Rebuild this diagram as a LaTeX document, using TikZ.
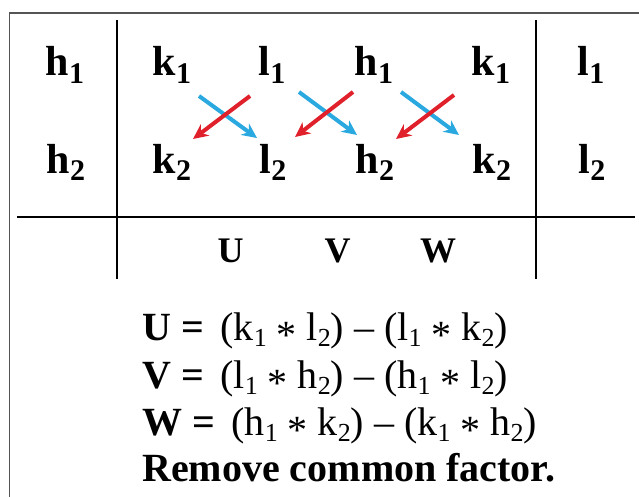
\documentclass[tikz,border=0pt]{standalone}
\usepackage{fontspec}
\setmainfont{Liberation Serif}
\usetikzlibrary{arrows.meta}
\definecolor{arrred}{HTML}{E0202A}
\definecolor{arrblue}{HTML}{2AA8E0}
\definecolor{framegray}{HTML}{555555}
\newcommand{\tsb}[2]{#1\raisebox{-0.17em}{\fontsize{30}{30}\selectfont #2}}
\newcommand{\esb}[1]{\raisebox{-0.16em}{\fontsize{26}{26}\selectfont #1}}
\newcommand{\myast}{\raisebox{-0.2em}{*}}
\begin{document}
\begin{tikzpicture}[x=1pt,y=-1pt,
  cell/.style={anchor=base,inner sep=0pt,font=\fontsize{42}{48}\selectfont\bfseries},
  lab/.style={anchor=base,inner sep=0pt,font=\fontsize{36}{40}\selectfont\bfseries},
  eq/.style={anchor=base west,inner sep=0pt,font=\fontsize{40}{46}\selectfont},
  rule/.style={line width=2pt},
  redarr/.style={arrred,line width=4pt,-{Stealth[length=15pt,width=14pt]}},
  bluearr/.style={arrblue,line width=4pt,-{Stealth[length=15pt,width=14pt]}}]
\useasboundingbox (0,0) rectangle (639,497);
\fill[white] (0,0) rectangle (639,497);
\draw[framegray,line width=1.5pt] (9.5,497) -- (9.5,13) -- (639,13);
% grid lines
\coordinate (v1t) at (117,20); \coordinate (v1b) at (117,279);
\coordinate (v2t) at (536,20); \coordinate (v2b) at (536,279);
\coordinate (hl) at (17,217); \coordinate (hr) at (635,217);
\draw[rule] (v1t) -- (v1b);
\draw[rule] (v2t) -- (v2b);
\draw[rule] (hl) -- (hr);
% row 1
\node[cell] (h1a) at (65,76) {\tsb{h}{1}};
\node[cell] (k1a) at (172,76) {\tsb{k}{1}};
\node[cell] (l1a) at (272,76) {\tsb{l}{1}};
\node[cell] (h1b) at (374,76) {\tsb{h}{1}};
\node[cell] (k1b) at (491,76) {\tsb{k}{1}};
\node[cell] (l1b) at (591,76) {\tsb{l}{1}};
% row 2
\node[cell] (h2a) at (66,173) {\tsb{h}{2}};
\node[cell] (k2a) at (172,173) {\tsb{k}{2}};
\node[cell] (l2a) at (273,173) {\tsb{l}{2}};
\node[cell] (h2b) at (375,173) {\tsb{h}{2}};
\node[cell] (k2b) at (492,173) {\tsb{k}{2}};
\node[cell] (l2b) at (592,173) {\tsb{l}{2}};
% labels
\node[lab] (U) at (230.5,262) {U};
\node[lab] (V) at (337.5,262) {V};
\node[lab] (W) at (438,262) {W};
% arrows
\coordinate (b1s) at (199,96); \coordinate (b1e) at (257,138);
\coordinate (r1s) at (250,96); \coordinate (r1e) at (193,139);
\coordinate (b2s) at (299,92); \coordinate (b2e) at (357,135);
\coordinate (r2s) at (353,92); \coordinate (r2e) at (295,137);
\coordinate (b3s) at (401,92); \coordinate (b3e) at (459,135);
\coordinate (r3s) at (454,95); \coordinate (r3e) at (396,139);
\draw[bluearr] (b1s) -- (b1e);
\draw[bluearr] (b2s) -- (b2e);
\draw[bluearr] (b3s) -- (b3e);
\draw[redarr] (r1s) -- (r1e);
\draw[redarr] (r2s) -- (r2e);
\draw[redarr] (r3s) -- (r3e);
% equations
\node[eq] (eqU) at (142,340) {\textbf{U =}\ \,(k\esb{1} \myast{} l\esb{2}) – (l\esb{1} \myast{} k\esb{2})};
\node[eq] (eqV) at (142,388) {\textbf{V =}\ \,(l\esb{1} \myast{} h\esb{2}) – (h\esb{1} \myast{} l\esb{2})};
\node[eq] (eqW) at (142,435) {\textbf{W =}\ \,(h\esb{1} \myast{} k\esb{2}) – (k\esb{1} \myast{} h\esb{2})};
\node[eq] (rem) at (142,481) {\textbf{Remove common factor.}};
\end{tikzpicture}
\end{document}
